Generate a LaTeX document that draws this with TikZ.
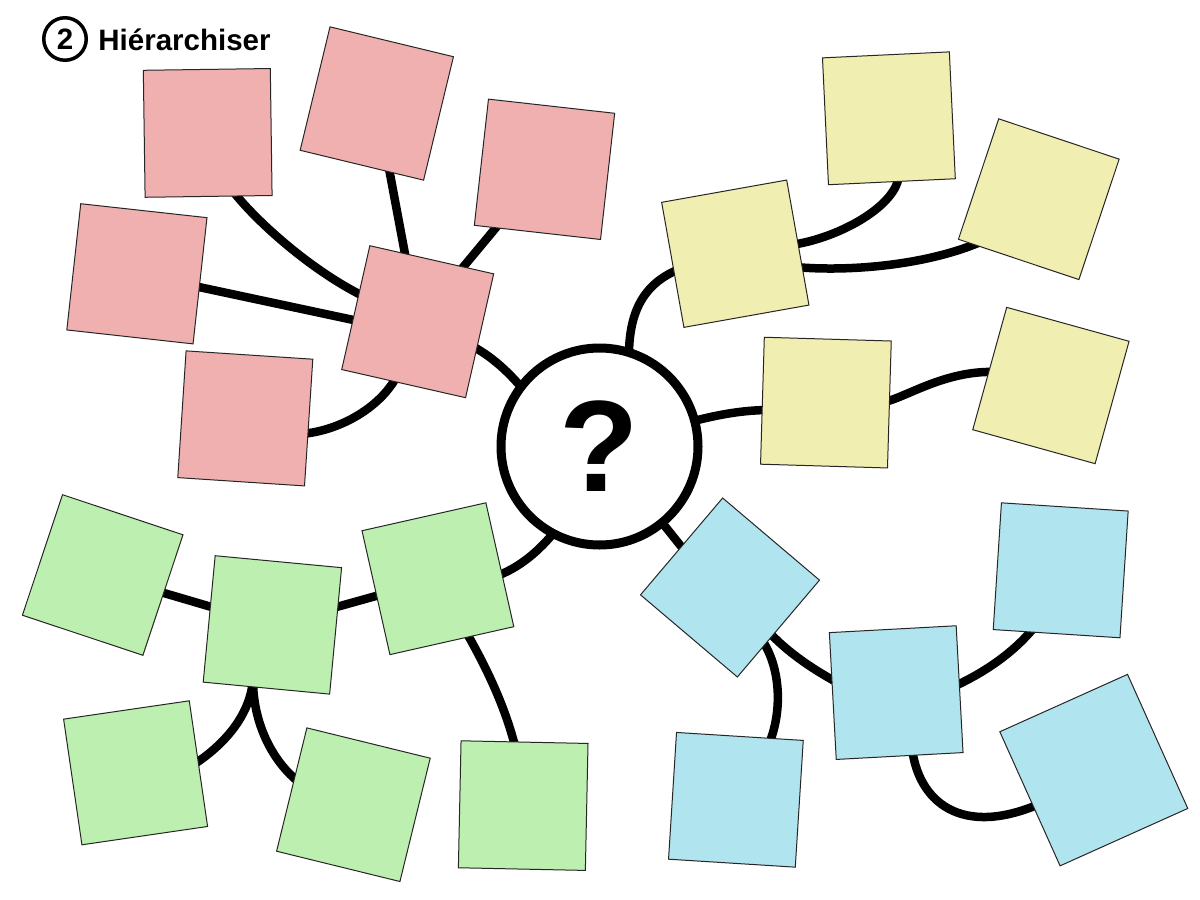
\documentclass[tikz,border=0pt]{standalone}
\usepackage{fontspec}
\setmainfont{Liberation Sans}
\usetikzlibrary{backgrounds,calc}
\definecolor{pinkc}{HTML}{F0B0B0}
\definecolor{yelc}{HTML}{F0EEB0}
\definecolor{grnc}{HTML}{BCEFB0}
\definecolor{bluc}{HTML}{B0E4EE}
\begin{document}
\begin{tikzpicture}[x=0.5pt,y=-0.5pt,
  note/.style={draw=black!85, line width=0.5pt, minimum width=63.5pt, minimum height=63.5pt, inner sep=0pt, outer sep=0pt},
  link/.style={line width=4.25pt, line join=round},
  titlefont/.style={font=\bfseries\fontsize{14.75pt}{17pt}\selectfont}]
\useasboundingbox (0,0) rectangle (1200,900);

% title
\node[circle, draw, line width=1.75pt, minimum size=21.25pt, inner sep=0pt, titlefont] (num) at (65,39) {2};
\node[anchor=base west, inner sep=0pt, titlefont] (title) at (98,50) {Hiérarchiser};

% pink group
\node[note, fill=pinkc, rotate=0.8]   (p1)  at (207.7,132.9) {};
\node[note, fill=pinkc, rotate=-13.6] (p2)  at (376.8,103.5) {};
\node[note, fill=pinkc, rotate=-6.4]  (p3)  at (544.5,169.3) {};
\node[note, fill=pinkc, rotate=-6.3]  (p4)  at (136.9,273.8) {};
\node[note, fill=pinkc, rotate=-12.8] (hub) at (417.7,321.7) {};
\node[note, fill=pinkc, rotate=-3.75] (p6)  at (245.3,418.4) {};

% yellow group
\node[note, fill=yelc, rotate=2.7]   (y1) at (888.9,118.3) {};
\node[note, fill=yelc, rotate=-18.5] (y2) at (1038.8,199.2) {};
\node[note, fill=yelc, rotate=10.1]  (y3) at (735.3,253.7) {};
\node[note, fill=yelc, rotate=-1.7]  (y4) at (825.9,402.6) {};
\node[note, fill=yelc, rotate=-15.5] (y5) at (1050.9,385.5) {};

% green group
\node[note, fill=grnc, rotate=-18.4] (g1) at (102.7,575) {};
\node[note, fill=grnc, rotate=-5.4]  (g2) at (272.4,624.9) {};
\node[note, fill=grnc, rotate=12.7]  (g3) at (437.9,578.7) {};
\node[note, fill=grnc, rotate=8.3]   (g4) at (135.6,772.8) {};
\node[note, fill=grnc, rotate=-13.8] (g5) at (353.4,804.7) {};
\node[note, fill=grnc, rotate=-1.2]  (g6) at (523.2,805.6) {};

% blue group
\node[note, fill=bluc, rotate=-40.3] (b1) at (730,587.5) {};
\node[note, fill=bluc, rotate=-3.7]  (b2) at (1060.7,570.3) {};
\node[note, fill=bluc, rotate=3.1]   (b3) at (896.2,692.6) {};
\node[note, fill=bluc, rotate=24.2, minimum width=70pt, minimum height=73.5pt] (b4) at (1093.8,770.1) {};
\node[note, fill=bluc, rotate=-3.6]  (b5) at (735.9,799.8) {};

% centre
\node[circle, draw, fill=white, line width=4.5pt, minimum size=98.5pt, inner sep=0pt,
      font=\bfseries\fontsize{65pt}{65pt}\selectfont] (c) at (599.5,446.5) {?};

\begin{scope}[on background layer]
\fill[white] (0,0) rectangle (1200,900);
% pink links
\draw[link] (p1.center) -- (232,190) .. controls (255,220) and (310,270) .. (365,297) -- (hub.center);
\draw[link] (p2.center) -- (hub.center);
\draw[link] (p3.center) -- (hub.center);
\draw[link] (p4.center) -- ([yshift=-6pt]hub.center);
\draw[link] (p6.center) -- (300,434) .. controls (335,432) and (380,410) .. (398,374) -- (hub.center);
\draw[link] (hub.center) -- (470,345) .. controls (490,355) and (510,372) .. (530,398) -- (c.center);
% yellow links
\draw[link] (c.center) -- (629,360) .. controls (628,310) and (645,282) .. (682,268) -- (y3.center);
\draw[link] (y3.center) -- (791,245) .. controls (840,238) and (898,205) .. (899,174) -- (y1.center);
\draw[link] (y3.center) -- (795,267) .. controls (850,272) and (930,265) .. (985,240) -- (y2.center);
\draw[link] (c.center) -- (690,422) .. controls (720,414) and (745,410) .. (770,410) -- (y4.center);
\draw[link] (y4.center) -- (884,402) .. controls (905,398) and (945,370) .. (996,372) -- (y5.center);
% green links
\draw[link] (c.center) -- (556,530) .. controls (540,550) and (520,568) .. (494,577) -- (g3.center);
\draw[link] (g3.center) -- (g2.center);
\draw[link] (g2.center) -- (g1.center);
\draw[link] (g2.center) -- (253,680) .. controls (250,715) and (225,745) .. (190,767) -- (g4.center);
\draw[link] (g2.center) -- (253,680) .. controls (253,720) and (270,760) .. (301,784) -- (g5.center);
\draw[link] (g3.center) -- (465,630) .. controls (485,665) and (505,705) .. (516,750) -- (g6.center);
% blue links
\draw[link] (c.center) -- (660,520) -- (700,570) -- (b1.center);
\draw[link] (b1.center) -- (767,630) .. controls (785,650) and (810,668) .. (840,684) -- (b3.center);
\draw[link] (b1.center) -- (762,640) .. controls (782,670) and (782,715) .. (768,746) -- (b5.center);
\draw[link] (b3.center) -- (955,686) .. controls (985,672) and (1015,652) .. (1036,625) -- (b2.center);
\draw[link] (b3.center) -- (912,748) .. controls (918,800) and (960,840) .. (1044,802) -- (b4.center);
\end{scope}
\end{tikzpicture}
\end{document}
